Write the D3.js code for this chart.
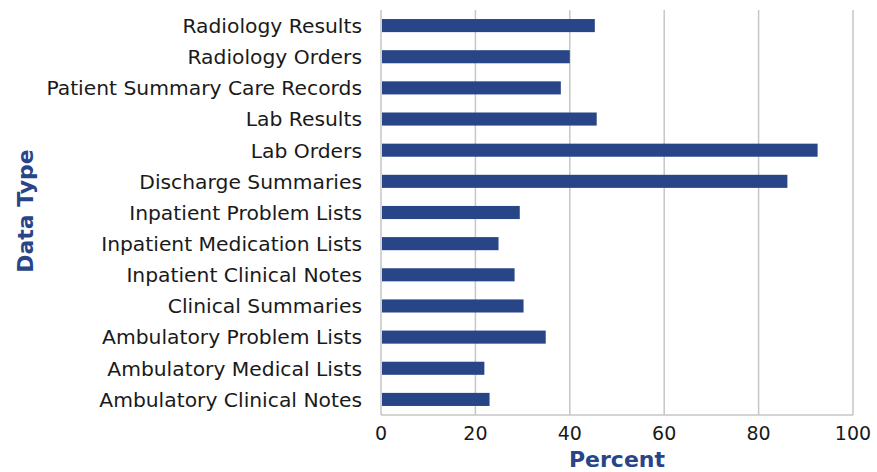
<!DOCTYPE html>
<html lang="en">
	<head>
		<meta charset="utf-8">
		<title>Data Type by Percent</title>
		<script type="text/javascript" src="https://cdnjs.cloudflare.com/ajax/libs/d3/7.8.5/d3.min.js"></script>
		<style type="text/css">
			body { margin: 0; background: #fff; }
		</style>
	</head>
	<body>
		<script type="text/javascript">

			// Chart data
			var categories = [
				'Radiology Results', 'Radiology Orders', 'Patient Summary Care Records',
				'Lab Results', 'Lab Orders', 'Discharge Summaries',
				'Inpatient Problem Lists', 'Inpatient Medication Lists', 'Inpatient Clinical Notes',
				'Clinical Summaries', 'Ambulatory Problem Lists', 'Ambulatory Medical Lists',
				'Ambulatory Clinical Notes'
			];
			var values = [45.3, 40.0, 38.1, 45.7, 92.5, 86.1, 29.4, 24.9, 28.3, 30.2, 34.9, 21.9, 23.0];
			var xTicks = [0, 20, 40, 60, 80, 100];

			var w = 877;
			var h = 472;
			var margin = {top: 10, right: 24, bottom: 57, left: 381};
			var blue = '#284587';
			var font = 'DejaVu Sans, sans-serif';

			var xScale = d3.scaleLinear()
							.domain([0, 100])
							.range([margin.left, w - margin.right]);

			var yScale = d3.scaleBand()
							.domain(categories)
							.range([margin.top, h - margin.bottom])
							.paddingInner(0.58)
							.paddingOuter(0.29);

			var svg = d3.select('body')
							.append('svg')
							.attr('width', w)
							.attr('height', h);

			// gridlines
			svg.append('g')
					.attr('stroke', '#c6c6c6')
					.attr('stroke-width', 1.5)
				.selectAll('line')
					.data(xTicks)
					.enter()
					.append('line')
					.attr('x1', d => xScale(d))
					.attr('x2', d => xScale(d))
					.attr('y1', margin.top)
					.attr('y2', h - margin.bottom);

			// bottom axis line
			svg.append('line')
				.attr('x1', xScale(0))
				.attr('x2', xScale(100))
				.attr('y1', h - margin.bottom)
				.attr('y2', h - margin.bottom)
				.attr('stroke', '#c6c6c6')
				.attr('stroke-width', 1.5);

			svg.append('g')
					.attr('fill', blue)
				.selectAll('rect')
					.data(values)
					.enter()
					.append('rect')
					.attr('x', xScale(0) + 1)
					.attr('y', (d, i) => yScale(categories[i]))
					.attr('width', d => xScale(d) - xScale(0) - 1)
					.attr('height', yScale.bandwidth());

			// category labels
			svg.append('g')
					.attr('text-anchor', 'end')
					.attr('font-family', font)
					.attr('font-size', 20.3)
					.attr('fill', '#1a1a1a')
				.selectAll('text')
					.data(categories)
					.enter()
					.append('text')
					.text(d => d)
					.attr('x', margin.left - 19)
					.attr('y', d => yScale(d) + yScale.bandwidth() / 2)
					.attr('dy', '0.36em');

			// tick labels
			svg.append('g')
					.attr('text-anchor', 'middle')
					.attr('font-family', font)
					.attr('font-size', 19)
					.attr('fill', '#1a1a1a')
				.selectAll('text')
					.data(xTicks)
					.enter()
					.append('text')
					.text(d => d)
					.attr('x', d => xScale(d))
					.attr('y', h - margin.bottom + 25);

			svg.append('text')
				.text('Percent')
				.attr('x', (xScale(0) + xScale(100)) / 2)
				.attr('y', 467)
				.attr('text-anchor', 'middle')
				.attr('font-family', font)
				.attr('font-weight', 'bold')
				.attr('font-size', 22)
				.attr('fill', blue);

			svg.append('text')
				.text('Data Type')
				.attr('transform', 'translate(33,211) rotate(-90)')
				.attr('text-anchor', 'middle')
				.attr('font-family', font)
				.attr('font-weight', 'bold')
				.attr('font-size', 22)
				.attr('fill', blue);
		</script>
	</body>
</html>
